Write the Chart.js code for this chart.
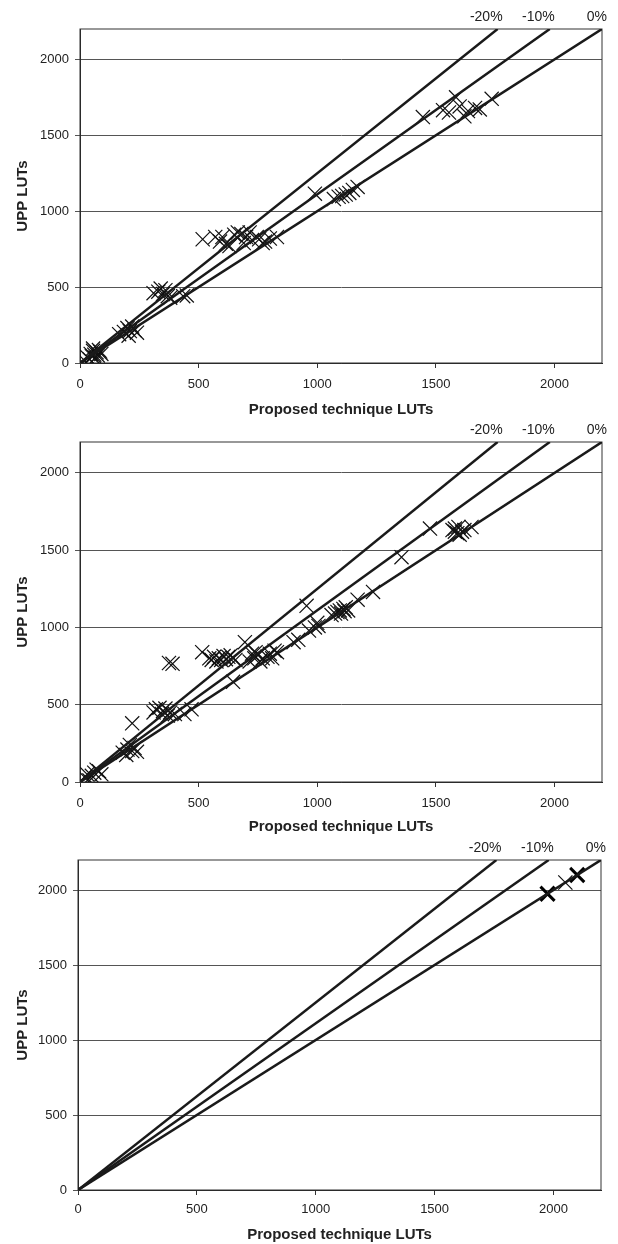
<!DOCTYPE html>
<html>
<head>
<meta charset="utf-8">
<script src="https://cdn.jsdelivr.net/npm/chart.js@4/dist/chart.umd.min.js"></script>
<style>
  body { margin: 0; background: #fff; }
  canvas { position: absolute; left: 0; }
</style>
</head>
<body>
<canvas id="c1" width="618" height="420" style="top:0px"></canvas>
<canvas id="c2" width="618" height="416" style="top:420px"></canvas>
<canvas id="c3" width="618" height="408" style="top:836px"></canvas>
<script>
// reference lines: UPP = proposed / (1 + pct)
const refLabels = ["-20%", "-10%", "0%"];
const refEndX = [1760, 1980, 2200];
const refEndY = [2200, 2200, 2200];
const tickValues = [0, 500, 1000, 1500, 2000];

// top chart
const chart1X = [20, 30, 40, 45, 50, 55, 60, 65, 70, 75, 80, 90, 55, 85,
  165, 185, 200, 210, 220, 230, 240, 205,
  310, 330, 340, 350, 360, 370, 380, 435, 450,
  517, 570, 590, 600, 615, 630, 650, 665, 680, 690, 700, 715, 725, 745, 755, 770, 780, 800, 830,
  990, 1070, 1090, 1105, 1120, 1135, 1150, 1170,
  1445, 1530, 1555, 1585, 1600, 1620, 1635, 1665, 1685, 1735];
const chart1Y = [15, 40, 25, 60, 45, 80, 55, 35, 70, 50, 85, 60, 95, 75,
  190, 205, 230, 210, 240, 215, 200, 180,
  460, 470, 490, 455, 480, 440, 430, 440, 445,
  815, 830, 800, 830, 785, 770, 845, 860, 850, 790, 830, 860, 810, 830, 815, 790, 800, 820, 830,
  1115, 1080, 1095, 1100, 1110, 1120, 1140, 1160,
  1620, 1665, 1650, 1750, 1690, 1625, 1660, 1680, 1670, 1740];

// middle chart
const chart2X = [20, 30, 40, 50, 60, 70, 80, 90,
  180, 195, 200, 210, 220, 230, 240, 220,
  310, 320, 335, 345, 350, 360, 370, 380, 400, 440, 470, 375, 390,
  515, 545, 555, 565, 575, 585, 595, 605, 615, 625, 635, 645, 655, 645, 695, 715, 725, 735, 740, 750, 760, 770, 790, 800, 810, 820, 830, 900, 920,
  965, 990, 1005, 1000, 1060, 1075, 1085, 1095, 1100, 1110, 1115, 1120, 1130, 1170, 1235, 1355, 1475, 955,
  1570, 1580, 1590, 1600, 1595, 1610, 1620, 1650, 1580];
const chart2Y = [30, 50, 10, 40, 60, 80, 70, 50,
  190, 175, 210, 240, 200, 220, 195, 380,
  450, 470, 480, 440, 460, 475, 430, 450, 440, 440, 470, 770, 765,
  840, 800, 790, 810, 780, 800, 790, 815, 795, 810, 820, 800, 790, 648, 905, 780, 830, 800, 840, 820, 780, 800, 810, 830, 800, 850, 840, 905, 920,
  980, 1000, 1010, 1030, 1080, 1090, 1100, 1110, 1090, 1120, 1105, 1130, 1110, 1180, 1230, 1455, 1640, 1140,
  1630, 1640, 1610, 1600, 1650, 1620, 1630, 1650, 1620];

// bottom chart
const chart3X = [2050];
const chart3Y = [2050];
const chart3BoldX = [1975, 2100];
const chart3BoldY = [1975, 2100];

const fontFamily = "'Liberation Sans', Arial, sans-serif";

function toPoints(xs, ys) {
  return xs.map((x, i) => ({ x: x, y: ys[i] }));
}

const boxPlugin = {
  id: "box",
  beforeDatasetsDraw(chart) {
    const a = chart.chartArea;
    const ctx = chart.ctx;
    ctx.save();
    ctx.strokeStyle = "#333";
    ctx.lineWidth = 1;
    ctx.strokeRect(a.left, a.top, a.right - a.left, a.bottom - a.top);
    ctx.restore();
  },
};

const refLabelPlugin = {
  id: "refLabels",
  afterDraw(chart) {
    const ctx = chart.ctx;
    const xs = chart.scales.x;
    ctx.save();
    ctx.font = "14px " + fontFamily;
    ctx.fillStyle = "#222";
    ctx.textAlign = "right";
    ctx.textBaseline = "middle";
    refLabels.forEach((lab, i) => {
      ctx.fillText(lab, xs.getPixelForValue(refEndX[i]) + 5, chart.chartArea.top - 12);
    });
    ctx.restore();
  },
};

function makeChart(id, xs, ys, boldXs, boldYs, lay) {
  const datasets = refLabels.map((lab, i) => ({
    label: lab,
    data: [{ x: 0, y: 0 }, { x: refEndX[i], y: refEndY[i] }],
    showLine: true,
    borderColor: "#1a1a1a",
    borderWidth: 2.5,
    pointRadius: 0,
  }));
  datasets.push({
    label: "designs",
    data: toPoints(xs, ys),
    pointStyle: "crossRot",
    pointRadius: 10,
    pointBorderWidth: 1.2,
    pointBorderColor: "#111",
    showLine: false,
  });
  if (boldXs) {
    datasets.push({
      label: "designs (bold)",
      data: toPoints(boldXs, boldYs),
      pointStyle: "crossRot",
      pointRadius: 10,
      pointBorderWidth: 3,
      pointBorderColor: "#000",
      showLine: false,
    });
  }

  new Chart(document.getElementById(id), {
    type: "scatter",
    data: { datasets: datasets },
    options: {
      responsive: false,
      animation: false,
      devicePixelRatio: 1,
      layout: { padding: { top: lay.padTop, right: lay.padRight, bottom: 0, left: 0 } },
      plugins: { legend: { display: false }, tooltip: { enabled: false } },
      scales: {
        x: {
          type: "linear",
          min: 0,
          max: 2200,
          afterBuildTicks: (s) => { s.ticks = tickValues.map((v) => ({ value: v })); },
          afterFit: (s) => { s.height = lay.xHeight; },
          ticks: {
            padding: lay.tickPad, color: "#222", font: { family: fontFamily, size: 13 },
            callback: (v) => String(v),
          },
          grid: { drawOnChartArea: false, tickLength: 5, color: "#333" },
          border: { color: "#222", width: 1 },
          title: {
            display: true,
            text: "Proposed technique LUTs",
            color: "#222",
            font: { family: fontFamily, size: 15, weight: "bold" },
            padding: { top: 0, bottom: lay.titlePad },
          },
        },
        y: {
          type: "linear",
          min: 0,
          max: 2200,
          afterBuildTicks: (s) => { s.ticks = tickValues.map((v) => ({ value: v })); },
          afterFit: (s) => { s.width = lay.yWidth; },
          ticks: {
            padding: 6, color: "#222", font: { family: fontFamily, size: 13 },
            callback: (v) => String(v),
          },
          grid: { tickLength: 5, color: "#555", lineWidth: 1 },
          border: { color: "#222", width: 1 },
          title: {
            display: true,
            text: "UPP LUTs",
            color: "#222",
            font: { family: fontFamily, size: 15, weight: "bold" },
            padding: { top: 14, bottom: 0 },
          },
        },
      },
    },
    plugins: [boxPlugin, refLabelPlugin],
  });
}

makeChart("c1", chart1X, chart1Y, null, null,
  { padTop: 29, padRight: 16, xHeight: 57, yWidth: 80, tickPad: 9, titlePad: 1 });
makeChart("c2", chart2X, chart2Y, null, null,
  { padTop: 22, padRight: 16, xHeight: 54, yWidth: 80, tickPad: 8.5, titlePad: 0 });
makeChart("c3", chart3X, chart3Y, chart3BoldX, chart3BoldY,
  { padTop: 24, padRight: 17, xHeight: 54, yWidth: 78, tickPad: 7, titlePad: 0 });
</script>
</body>
</html>
